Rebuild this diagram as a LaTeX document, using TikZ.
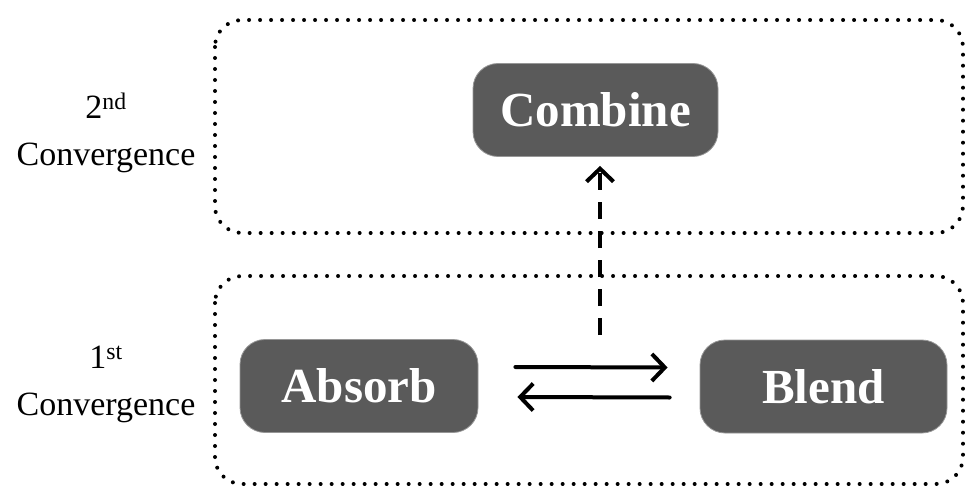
\documentclass[tikz,border=0pt]{standalone}
\usepackage{fontspec}
\setmainfont{Liberation Serif}
\usetikzlibrary{arrows.meta,calc}
\definecolor{boxgray}{RGB}{90,90,90}
\definecolor{rimgray}{RGB}{150,150,150}
\tikzset{
  stage/.style={draw=rimgray, line width=0.8pt, fill=boxgray, rounded corners=25pt,
    text=white, font=\fontsize{49}{52}\selectfont\bfseries,
    minimum height=93pt, inner sep=0pt},
  group/.style={line width=4pt, dash pattern=on 0pt off 11pt, line cap=round,
    rounded corners=27pt},
  caption/.style={align=center, font=\fontsize{34}{47}\selectfont},
  arr/.style={line width=4pt, line cap=round,
    -{Straight Barb[length=13pt,width=27pt,line width=4pt]}},
  darr/.style={arr, dash pattern=on 17pt off 12pt, line cap=butt}
}
\begin{document}
\begin{tikzpicture}[x=1pt,y=-1pt]
  \useasboundingbox (0,0) rectangle (965,486);

  % convergence groups
  \draw[group] (215,20) rectangle (963,233);
  \draw[group] (215,276) rectangle (963,484);

  % group captions
  \node[caption] (cap2) at (106,133) {2\textsuperscript{nd}\\Convergence};
  \node[caption] (cap1) at (106,384) {1\textsuperscript{st}\\Convergence};

  % stages
  \node[stage, minimum width=245pt] (combine) at (595.5,110) {Combine};
  \node[stage, minimum width=238pt] (absorb) at (359,386) {Absorb};
  \node[stage, minimum width=247pt] (blend) at (823.5,386.5) {Blend};

  % exchange between the first-stage operations
  \draw[arr] ([xshift=37pt,yshift=19pt]absorb.east) -- ([xshift=-32pt,yshift=19pt]blend.west);
  \draw[arr] ([xshift=-30pt,yshift=-11pt]blend.west) -- ([xshift=39pt,yshift=-11pt]absorb.east);

  % lift to the second convergence
  \coordinate (lift) at (600,335);
  \draw[darr] (lift) -- ([xshift=4.5pt,yshift=-9pt]combine.south);
\end{tikzpicture}
\end{document}
